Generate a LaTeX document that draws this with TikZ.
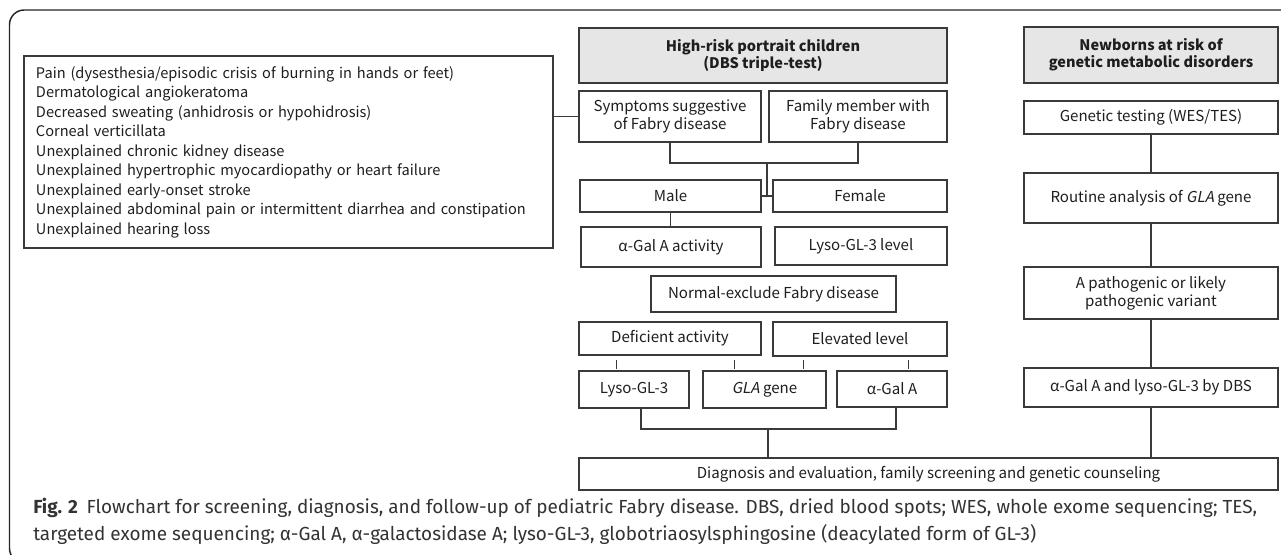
\documentclass[tikz,border=0pt]{standalone}
\usepackage{fontspec}
\setmainfont{Noto Sans CJK SC}[AutoFakeSlant=0.2]
\newfontfamily\capfont{Fira Sans}
\usetikzlibrary{calc}
\definecolor{ln}{HTML}{3A3A3A}
\definecolor{hdrfill}{HTML}{E6E6E6}
\definecolor{txt}{HTML}{1E1E1E}
\newcommand\boxfont{\fontsize{11.3}{13.4}\selectfont}
\newcommand\hdrfont{\fontsize{10.9}{12.6}\selectfont\bfseries}
\newcommand\listfont{\fontsize{10.95}{14.6}\selectfont}
\newcommand\capsize{\fontsize{14.2}{16}\selectfont}
\begin{document}
\begin{tikzpicture}[x=0.75pt,y=-0.75pt,
  bx/.style 2 args={draw=ln, line width=0.9pt, inner sep=0pt, text=txt,
    minimum width={0.75*#1}, minimum height={0.75*#2}, align=center, font=\boxfont},
  hdr/.style 2 args={bx={#1}{#2}, fill=hdrfill, font=\hdrfont},
  conn/.style={draw=ln, line width=0.8pt},
  frame/.style={draw=black!85, line width=1.1pt, rounded corners=11pt},
  captxt/.style={anchor=west, inner sep=0pt, text=black!80, font=\capfont\capsize}]
\useasboundingbox (0,0) rectangle (1281,555);
\fill[white] (0,0) rectangle (1281,555);
\draw[frame] (1300,10) -- (9.5,10) -- (9.5,563) -- (60,563);

% left list
\node[bx={529}{192}, align=left, font=\listfont, text width={0.75*505}] (list) at (288.5,152)
 {Pain (dysesthesia/episodic crisis of burning in hands or feet)\\
  Dermatological angiokeratoma\\
  Decreased sweating (anhidrosis or hypohidrosis)\\
  Corneal verticillata\\
  Unexplained chronic kidney disease\\
  Unexplained hypertrophic myocardiopathy or heart failure\\
  Unexplained early-onset stroke\\
  Unexplained abdominal pain or intermittent diarrhea and constipation\\
  Unexplained hearing loss};

% middle column
\node[hdr={368}{55}] (hdr1) at (763,55.5) {High-risk portrait children\\(DBS triple-test)};
\node[bx={182}{51}] (symp) at (670,116.5) {Symptoms suggestive\\of Fabry disease};
\node[bx={178}{51}] (fam) at (858,116.5) {Family member with\\Fabry disease};
\node[bx={181}{32}] (male) at (670.5,196) {Male};
\node[bx={174}{32}] (female) at (860,196) {Female};
\node[bx={180}{40}] (agal) at (671,247) {α-Gal A activity};
\node[bx={172}{38}] (lyso) at (861,246) {Lyso-GL-3 level};
\node[bx={245}{36}] (normal) at (773.5,294) {Normal-exclude Fabry disease};
\node[bx={182}{33}] (def) at (670,338.5) {Deficient activity};
\node[bx={174}{34}] (elev) at (860,339) {Elevated level};
\node[bx={110}{37}] (b1) at (634,389.5) {Lyso-GL-3};
\node[bx={123}{37}] (b2) at (764.5,389.5) {\textit{GLA} gene};
\node[bx={110}{36}] (b3) at (892,389) {α-Gal A};
\node[bx={699}{32}] (diag) at (928.5,474) {Diagnosis and evaluation, family screening and genetic counseling};

% right column
\node[hdr={254}{56}] (hdr2) at (1151,55) {Newborns at risk of\\genetic metabolic disorders};
\node[bx={254}{33}] (gt) at (1151,117.5) {Genetic testing (WES/TES)};
\node[bx={254}{50}] (rout) at (1151,198) {Routine analysis of \textit{GLA} gene};
\node[bx={254}{52}] (path) at (1151,293) {A pathogenic or likely\\pathogenic variant};
\node[bx={254}{39}] (dbs) at (1151,387.5) {α-Gal A and lyso-GL-3 by DBS};

% junctions
\coordinate (j1) at (767,163);
\coordinate (j2) at (768,429);

% connectors
\draw[conn] (symp.west) -- (symp.west -| list.east);
\draw[conn] (symp.south) |- (j1) -| (fam.south);
\draw[conn] (j1) -- (j1 |- male.east);
\draw[conn] (male.east) -- (female.west);
\draw[conn] (male.south) -- (male.south |- agal.north);
\draw[conn] ($(female.south)+(-7,0)$) -- ($(female.south)+(-7,0)$ |- lyso.north);
\draw[conn] ($(agal.south west)+(17,0)$) -- ($(agal.south west)+(17,0)$ |- def.north);
\draw[conn] ($(lyso.south east)+(-19,0)$) -- ($(lyso.south east)+(-19,0)$ |- elev.north);
\draw[conn] ($(def.south west)+(38,4)$) -- ++(0,9);
\draw[conn] ($(def.south west)+(156,4)$) -- ++(0,9);
\draw[conn] ($(elev.south west)+(31,3)$) -- ++(0,9);
\draw[conn] ($(elev.south west)+(136,3)$) -- ++(0,9);
\draw[conn] ($(b1.south)+(7,0)$) |- (j2) -| ($(b3.south)+(4,0)$);
\draw[conn] (j2) -- (j2 |- diag.north);
\draw[conn] (gt.south) -- (rout.north);
\draw[conn] (rout.south) -- (path.north);
\draw[conn] (path.south) -- (dbs.north);
\draw[conn] (dbs.south) -- (dbs.south |- diag.north);

% caption
\node[captxt] (cap1) at (33,508) {\textbf{Fig. 2}\hspace{0.45em}Flowchart for screening, diagnosis, and follow-up of pediatric Fabry disease. DBS, dried blood spots; WES, whole exome sequencing; TES,};
\node[captxt] (cap2) at (33,535) {targeted exome sequencing; α-Gal A, α-galactosidase A; lyso-GL-3, globotriaosylsphingosine (deacylated form of GL-3)};
\end{tikzpicture}
\end{document}
